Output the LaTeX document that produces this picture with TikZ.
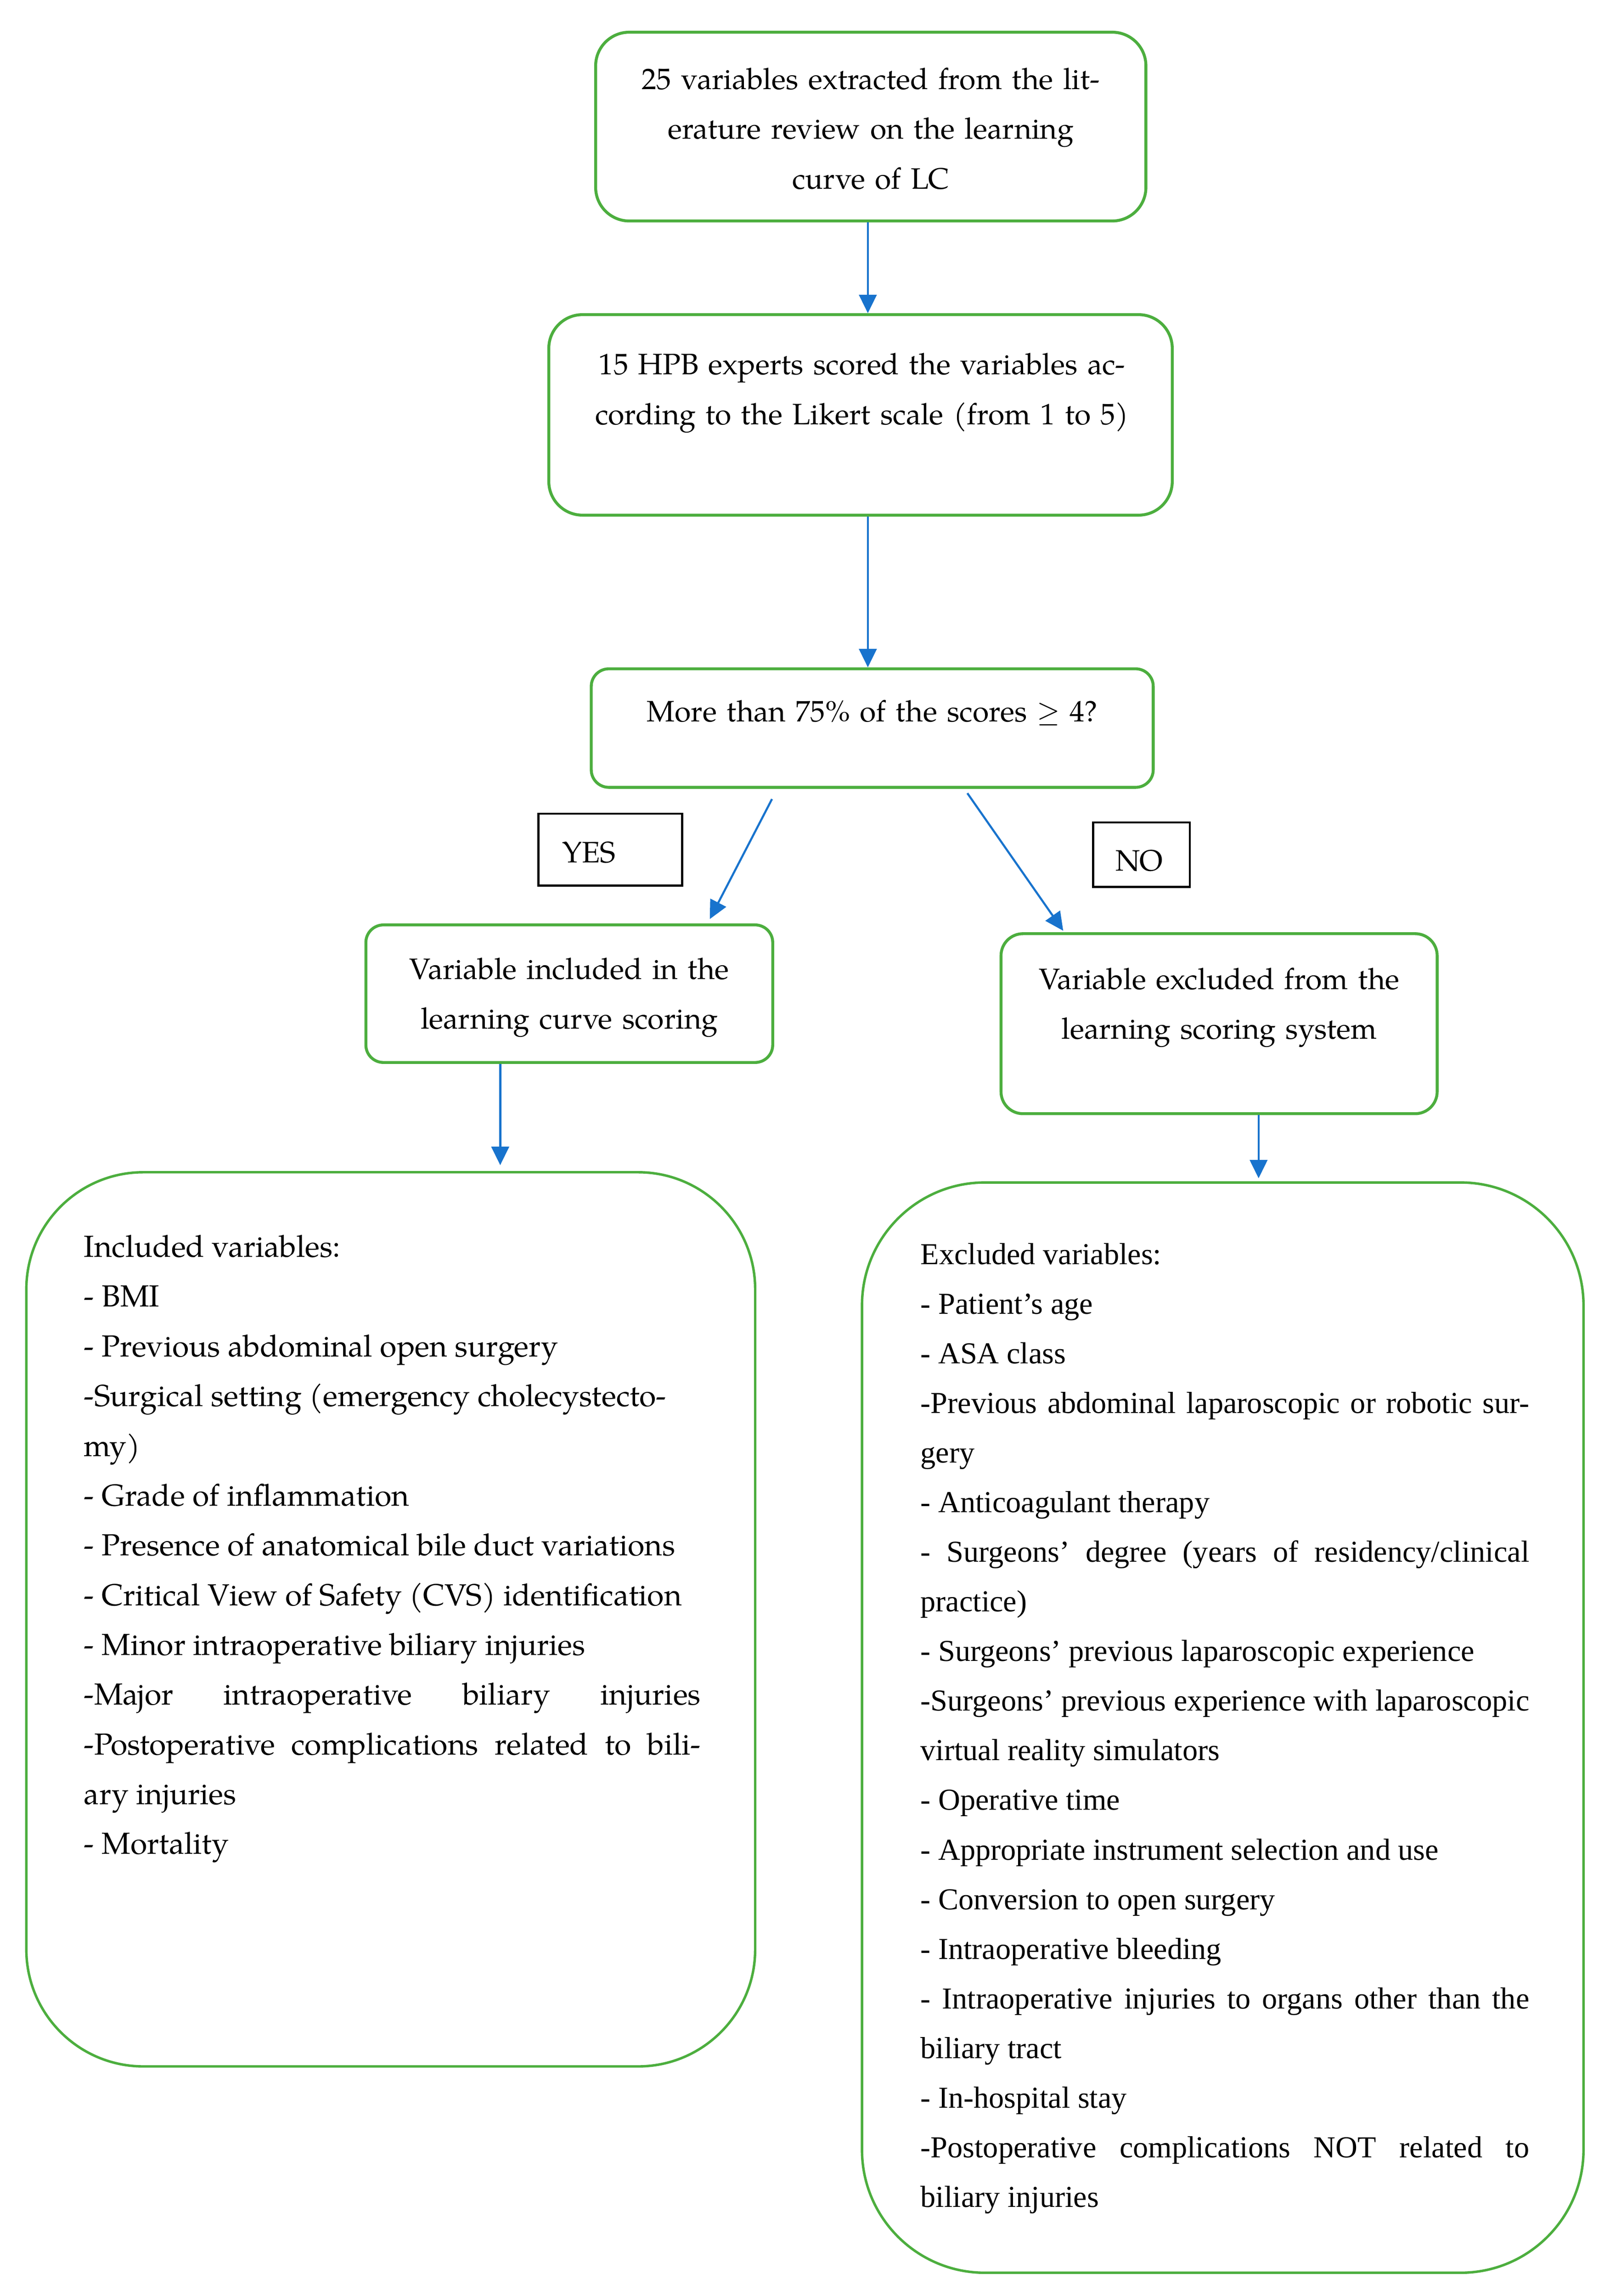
\documentclass[tikz,border=0pt]{standalone}
\usepackage{fontspec}
\setmainfont{TeX Gyre Pagella}
\newfontfamily\timesfont{Liberation Serif}
\usetikzlibrary{arrows.meta}
\definecolor{boxgreen}{RGB}{76,174,62}
\definecolor{arrowblue}{RGB}{24,115,205}
\newcommand{\jline}[2]{\makebox[#1][s]{\spaceskip=0pt\xspaceskip=0pt #2}}
\begin{document}
\begin{tikzpicture}[x=0.5pt,y=-0.5pt,
  gbox/.style={draw=boxgreen, line width=1pt, inner sep=0pt},
  bigbox/.style={draw=boxgreen, line width=0.85pt, inner sep=0pt},
  lblbox/.style={draw=black, line width=0.75pt, inner sep=0pt},
  arr/.style={draw=arrowblue, line width=0.7pt, -{Triangle[length=6.3pt,width=6pt]}},
  ctxt/.style={font=\fontsize{10.1}{17}\selectfont, align=center, text width=260pt, inner sep=0pt, anchor=base},
  ltxt/.style={font=\fontsize{10.4}{17}\selectfont, align=flush left, text width=240pt, inner sep=0pt, anchor=base west},
  rtxt/.style={font=\timesfont\fontsize{10.4}{16.95}\selectfont, align=flush left, text width=240pt, inner sep=0pt, anchor=base west},
]
\useasboundingbox (0,0) rectangle (1100,1568.9);

% boxes
\node[gbox, rounded corners=11.5pt, minimum width=188pt, minimum height=64.5pt] (b1) at (595,86.5) {};
\node[gbox, rounded corners=11.5pt, minimum width=213pt, minimum height=68.5pt] (b2) at (588,283.5) {};
\node[gbox, rounded corners=6pt, minimum width=192pt, minimum height=40.5pt] (b3) at (596,497.5) {};
\node[lblbox, minimum width=49pt, minimum height=24.5pt] (yes) at (417,580.5) {};
\node[lblbox, minimum width=33pt, minimum height=22pt] (no) at (780,584) {};
\node[gbox, rounded corners=6pt, minimum width=139pt, minimum height=47pt] (b4) at (389,679) {};
\node[gbox, rounded corners=7.5pt, minimum width=149pt, minimum height=61.5pt] (b5) at (833,699.5) {};
\node[bigbox, rounded corners=40pt, minimum width=249pt, minimum height=305.5pt] (b6) at (267,1106.5) {};
\node[bigbox, rounded corners=42pt, minimum width=246.5pt, minimum height=372.5pt] (b7) at (835.5,1180.5) {};

% texts
\node[ctxt] (t1) at (595,61) {25 variables extracted from the lit-\\erature review on the learning\\curve of LC};
\node[ctxt] (t2) at (589,256) {15 HPB experts scored the variables ac-\\cording to the Likert scale (from 1 to 5)};
\node[ctxt] (t3) at (596,493) {More than 75\% of the scores $\geq$ 4?};
\node[ctxt] (tyes) at (402.5,589.5) {YES};
\node[ctxt] (tno) at (778.5,595) {NO};
\node[ctxt] (t4) at (389,669) {Variable included in the\\learning curve scoring};
\node[ctxt] (t5) at (833,676) {Variable excluded from the\\learning scoring system};

\node[ltxt] (t6) at (57,859) {Included variables:\\
- BMI\\
- Previous abdominal open surgery\\
-Surgical setting (emergency cholecystecto-\\
my)\\
- Grade of inflammation\\
- Presence of anatomical bile duct variations\\
- Critical View of Safety (CVS) identification\\
- Minor intraoperative biliary injuries\\
\jline{210.7pt}{-Major intraoperative biliary injuries}\\
\jline{210.7pt}{-Postoperative complications related to bili-}\\
ary injuries\\
- Mortality};

\node[rtxt] (t7) at (628.6,864) {Excluded variables:\\
- Patient’s age\\
- ASA class\\
\jline{208pt}{-Previous abdominal laparoscopic or robotic sur-}\\
gery\\
- Anticoagulant therapy\\
\jline{208pt}{- Surgeons’ degree (years of residency/clinical}\\
practice)\\
- Surgeons’ previous laparoscopic experience\\
\jline{208pt}{-Surgeons’ previous experience with laparoscopic}\\
virtual reality simulators\\
- Operative time\\
- Appropriate instrument selection and use\\
- Conversion to open surgery\\
- Intraoperative bleeding\\
\jline{208pt}{- Intraoperative injuries to organs other than the}\\
biliary tract\\
- In-hospital stay\\
\jline{208pt}{-Postoperative complications NOT related to}\\
biliary injuries};

% connectors
\coordinate (ax) at (593,0);
\coordinate (ys) at (527.5,546);
\coordinate (ye) at (485,628);
\coordinate (ns) at (661,542);
\coordinate (ne) at (726.5,636);
\coordinate (x4) at (341.8,0);
\coordinate (x5) at (860,0);
\draw[arr] (b1.south -| ax) -- (b2.north -| ax);
\draw[arr] (b2.south -| ax) -- (b3.north -| ax);
\draw[arr] (ys) -- (ye);
\draw[arr] (ns) -- (ne);
\draw[arr] (b4.south -| x4) -- ([yshift=2pt]b6.north -| x4);
\draw[arr] (b5.south -| x5) -- ([yshift=1pt]b7.north -| x5);
\end{tikzpicture}
\end{document}
